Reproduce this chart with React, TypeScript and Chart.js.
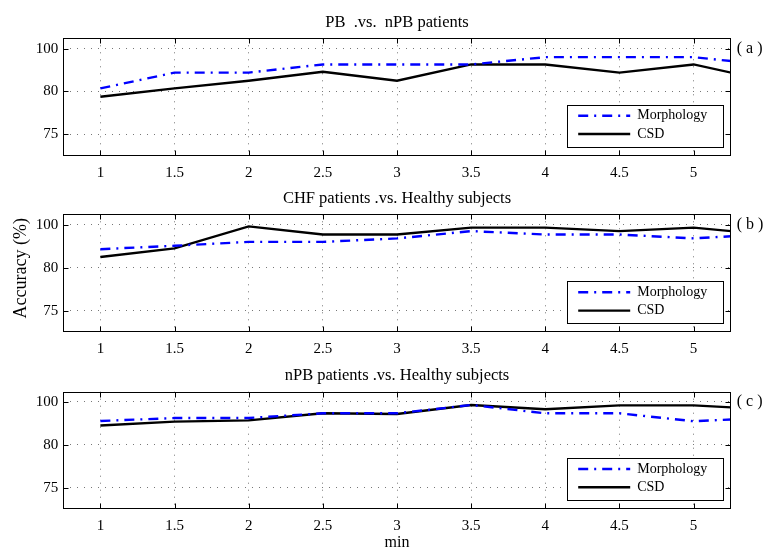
import React, { useEffect, useRef } from 'react';
import { Chart, registerables } from 'chart.js';

Chart.register(...registerables);

// ---- data ----
const X_VALUES = [1, 1.5, 2, 2.5, 3, 3.5, 4, 4.5, 5, 5.5];
const X_TICKS = [1, 1.5, 2, 2.5, 3, 3.5, 4, 4.5, 5];
const X_MIN = 0.75;
const X_MAX = 5.25;
const Y_TICKS = [80, 90, 100];
const Y_TICK_LABELS = ['75', '80', '100'];
const Y_MIN = 75;
const Y_MAX = 102.4;
const SERIES_NAMES = ['Morphology', 'CSD'];
const TITLES = [
  'PB  .vs.  nPB patients',
  'CHF patients .vs. Healthy subjects',
  'nPB patients .vs. Healthy subjects',
];
const PANEL_LABELS = ['( a )', '( b )', '( c )'];
const MORPH_A = [90.7, 94.4, 94.4, 96.3, 96.3, 96.3, 98.0, 98.0, 98.0, 96.2];
const CSD_A = [88.75, 90.7, 92.5, 94.6, 92.5, 96.3, 96.3, 94.4, 96.3, 92.5];
const MORPH_B = [94.3, 95.1, 96.0, 96.0, 96.8, 98.5, 97.7, 97.7, 96.8, 97.8];
const CSD_B = [92.5, 94.5, 99.6, 97.7, 97.7, 99.3, 99.3, 98.5, 99.3, 97.7];
const MORPH_C = [95.55, 96.25, 96.25, 97.35, 97.35, 99.3, 97.35, 97.35, 95.5, 96.3];
const CSD_C = [94.5, 95.4, 95.7, 97.35, 97.2, 99.3, 98.3, 99.2, 99.2, 98.3];
const Y_LABEL = 'Accuracy (%)';
const X_LABEL = 'min';

const FONT = "'Liberation Serif', 'Times New Roman', serif";
const W = 763;

type PanelCfg = {
  title: string;
  label: string;
  morph: number[];
  csd: number[];
  canvasTop: number;
  canvasHeight: number;
  chartTop: number;
  chartBottom: number;
  showYLabel: boolean;
  showXLabel: boolean;
};

const PANELS: PanelCfg[] = [
  { title: TITLES[0], label: PANEL_LABELS[0], morph: MORPH_A, csd: CSD_A, canvasTop: 0, canvasHeight: 183, chartTop: 38.3, chartBottom: 155.7, showYLabel: false, showXLabel: false },
  { title: TITLES[1], label: PANEL_LABELS[1], morph: MORPH_B, csd: CSD_B, canvasTop: 183, canvasHeight: 179, chartTop: 214.3, chartBottom: 332.3, showYLabel: true, showXLabel: false },
  { title: TITLES[2], label: PANEL_LABELS[2], morph: MORPH_C, csd: CSD_C, canvasTop: 362, canvasHeight: 188, chartTop: 391.7, chartBottom: 509, showYLabel: false, showXLabel: true },
];

const decorPlugin = {
  id: 'decor',
  afterDatasetsDraw(chart: any, _args: any, opts: any) {
    const { ctx, chartArea: ca, scales } = chart;
    ctx.save();
    ctx.strokeStyle = '#000';
    ctx.lineWidth = 1;
    ctx.setLineDash([]);
    const L = Math.round(ca.left) + 0.5;
    const R = Math.round(ca.right) - 0.5;
    const T = Math.round(ca.top) + 0.5;
    const B = Math.round(ca.bottom) - 0.5;
    ctx.strokeRect(L, T, R - L, B - T);
    const tl = 5;
    ctx.beginPath();
    X_TICKS.forEach((v) => {
      const px = Math.round(scales.x.getPixelForValue(v)) + 0.5;
      ctx.moveTo(px, B); ctx.lineTo(px, B - tl);
      ctx.moveTo(px, T); ctx.lineTo(px, T + tl);
    });
    Y_TICKS.forEach((v) => {
      const py = Math.round(scales.y.getPixelForValue(v)) + 0.5;
      ctx.moveTo(L, py); ctx.lineTo(L + tl, py);
      ctx.moveTo(R, py); ctx.lineTo(R - tl, py);
    });
    ctx.stroke();

    // title
    ctx.fillStyle = '#000';
    ctx.font = `16.5px ${FONT}`;
    ctx.textAlign = 'center';
    ctx.textBaseline = 'middle';
    ctx.fillText(opts.title, (ca.left + ca.right) / 2, ca.top - 16);

    // panel label
    ctx.textAlign = 'left';
    ctx.font = `16px ${FONT}`;
    ctx.fillText(opts.label, ca.right + 6, scales.y.getPixelForValue(Y_TICKS[Y_TICKS.length - 1]));

    // legend
    const bx = ca.right - 163.5;
    const by = ca.bottom - 51;
    const bw = 156;
    const bh = 42;
    ctx.fillStyle = '#fff';
    ctx.fillRect(Math.round(bx) + 0.5, Math.round(by) + 0.5, bw, bh);
    ctx.strokeStyle = '#000';
    ctx.lineWidth = 1;
    ctx.strokeRect(Math.round(bx) + 0.5, Math.round(by) + 0.5, bw, bh);
    chart.data.datasets.forEach((ds: any, i: number) => {
      const ry = by + 11 + i * 18.3;
      ctx.save();
      ctx.strokeStyle = ds.borderColor;
      ctx.lineWidth = ds.borderWidth;
      ctx.setLineDash(ds.borderDash || []);
      ctx.beginPath();
      ctx.moveTo(bx + 11, ry);
      ctx.lineTo(bx + 63, ry);
      ctx.stroke();
      ctx.restore();
      ctx.fillStyle = '#000';
      ctx.font = `14px ${FONT}`;
      ctx.textAlign = 'left';
      ctx.textBaseline = 'middle';
      ctx.fillText(ds.label, bx + 70, ry);
    });

    if (opts.showYLabel) {
      ctx.save();
      ctx.translate(21.5, 268.3 - chart.canvas.offsetTop);
      ctx.rotate(-Math.PI / 2);
      ctx.textAlign = 'center';
      ctx.textBaseline = 'middle';
      ctx.font = `18px ${FONT}`;
      ctx.fillStyle = '#000';
      ctx.fillText(Y_LABEL, 0, 0);
      ctx.restore();
    }
    if (opts.showXLabel) {
      ctx.textAlign = 'center';
      ctx.textBaseline = 'middle';
      ctx.font = `16px ${FONT}`;
      ctx.fillStyle = '#000';
      ctx.fillText(X_LABEL, (ca.left + ca.right) / 2, ca.bottom + 34);
    }
    ctx.restore();
  },
};

function Panel({ cfg }: { cfg: PanelCfg }) {
  const ref = useRef<HTMLCanvasElement | null>(null);
  useEffect(() => {
    if (!ref.current) return;
    const padTop = cfg.chartTop - cfg.canvasTop;
    const xAxisH = cfg.canvasHeight - (cfg.chartBottom - cfg.canvasTop);
    const chart = new Chart(ref.current, {
      type: 'line',
      data: {
        datasets: [
          {
            label: SERIES_NAMES[0],
            data: X_VALUES.map((x, i) => ({ x, y: cfg.morph[i] })),
            borderColor: '#0000ff',
            borderWidth: 2.4,
            borderDash: [10, 6, 2, 6],
            pointRadius: 0,
            tension: 0,
            clip: 0,
          },
          {
            label: SERIES_NAMES[1],
            data: X_VALUES.map((x, i) => ({ x, y: cfg.csd[i] })),
            borderColor: '#000000',
            borderWidth: 2.4,
            pointRadius: 0,
            tension: 0,
            clip: 0,
          },
        ],
      },
      options: {
        responsive: false,
        animation: false,
        devicePixelRatio: 1,
        layout: { padding: { left: 0, right: W - 730.7, top: padTop, bottom: 0 } },
        plugins: {
          legend: { display: false },
          title: { display: false },
          tooltip: { enabled: false },
          decor: { title: cfg.title, label: cfg.label, showYLabel: cfg.showYLabel, showXLabel: cfg.showXLabel },
        } as any,
        scales: {
          x: {
            type: 'linear',
            min: X_MIN,
            max: X_MAX,
            afterBuildTicks: (scale: any) => {
              scale.ticks = X_TICKS.map((v) => ({ value: v }));
            },
            afterFit: (scale: any) => {
              scale.height = xAxisH;
            },
            grid: { color: '#777', lineWidth: 1, drawTicks: false },
            border: { display: false, dash: [1, 6] },
            ticks: {
              color: '#000',
              font: { family: FONT, size: 15 },
              padding: 8,
              maxRotation: 0,
              autoSkip: false,
              callback: (v: any) => String(v),
            },
          },
          y: {
            type: 'linear',
            min: Y_MIN,
            max: Y_MAX,
            afterBuildTicks: (scale: any) => {
              scale.ticks = Y_TICKS.map((v) => ({ value: v }));
            },
            afterFit: (scale: any) => {
              scale.width = 63.3;
            },
            grid: { color: '#777', lineWidth: 1, drawTicks: false },
            border: { display: false, dash: [1, 6] },
            ticks: {
              color: '#000',
              font: { family: FONT, size: 15 },
              padding: 5,
              autoSkip: false,
              callback: (v: any) => {
                const i = Y_TICKS.indexOf(Number(v));
                return i >= 0 ? Y_TICK_LABELS[i] : '';
              },
            },
          },
        },
      },
      plugins: [decorPlugin],
    } as any);
    return () => chart.destroy();
  }, [cfg]);
  return (
    <canvas
      ref={ref}
      width={W}
      height={cfg.canvasHeight}
      style={{ position: 'absolute', left: 0, top: cfg.canvasTop, width: W, height: cfg.canvasHeight }}
    />
  );
}

export default function App() {
  return (
    <div style={{ position: 'absolute', left: 0, top: 0, width: W, height: 550, background: '#fff', overflow: 'hidden' }}>
      {PANELS.map((p, i) => (
        <Panel key={i} cfg={p} />
      ))}
    </div>
  );
}
